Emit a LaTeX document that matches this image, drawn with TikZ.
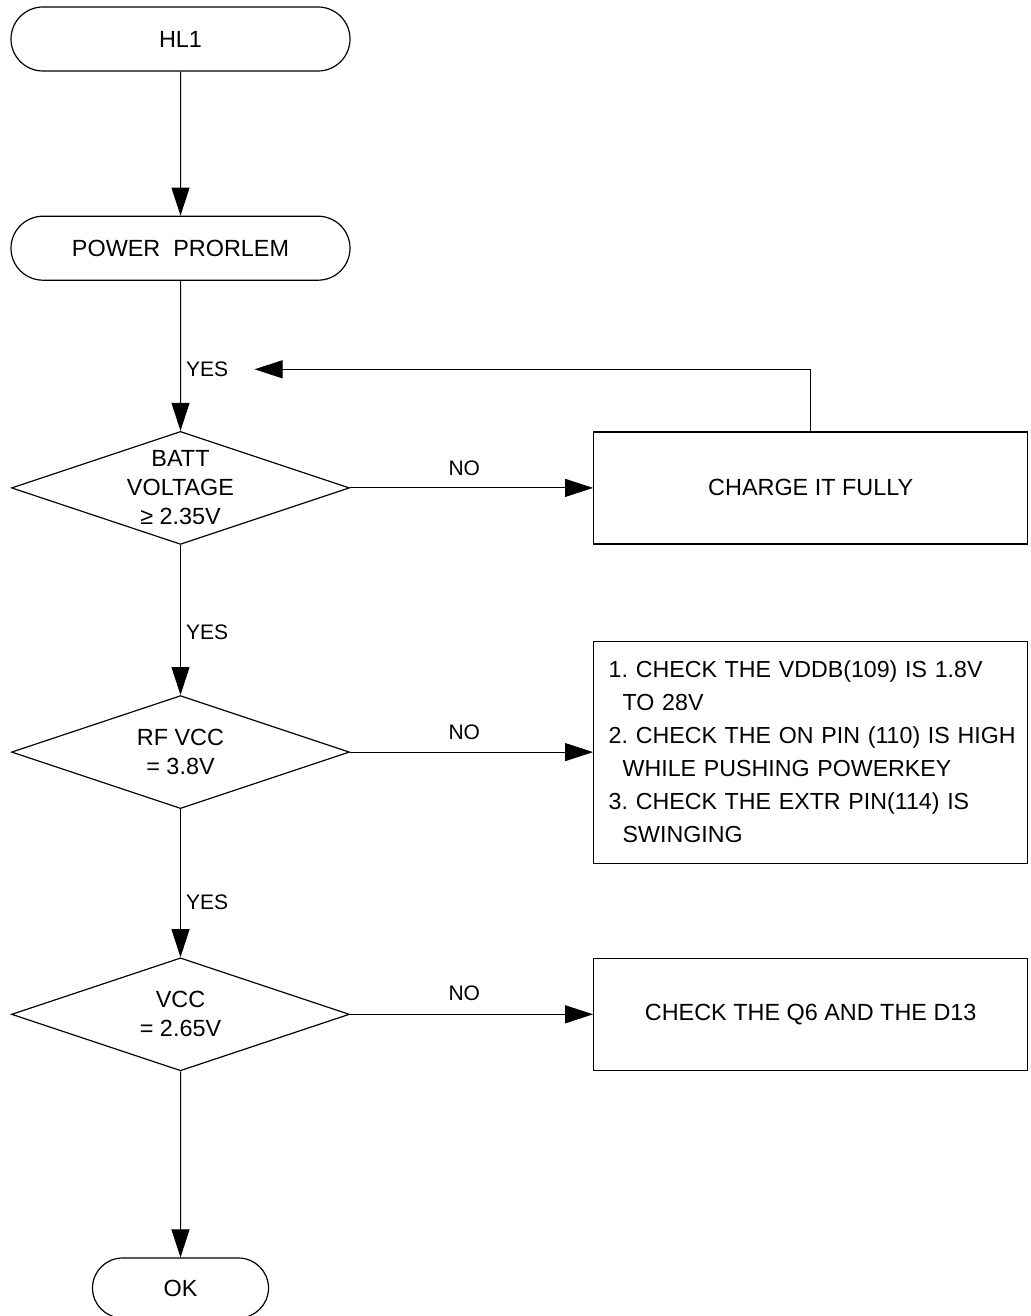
\documentclass[tikz,border=0pt]{standalone}
\usepackage{fontspec}
\setmainfont{Liberation Sans}
\usetikzlibrary{shapes.geometric, shapes.misc, positioning, arrows.meta}
\frenchspacing

\begin{document}
\begin{tikzpicture}[
  font=\fontsize{23.4}{29}\selectfont,
  line width=1.2pt,
  term/.style={
    draw, rounded rectangle, inner sep=0pt,
    minimum width=339pt, minimum height=64pt
  },
  decision/.style={
    draw, diamond, aspect=3, inner sep=0pt, align=center,
    minimum width=338pt, minimum height=113pt
  },
  action/.style={draw, rectangle, align=center, minimum width=434pt, minimum height=112pt},
  lbl/.style={font=\fontsize{21}{25}\selectfont, inner sep=0pt},
  arrow/.style={-{Triangle[length=28pt, width=18pt]}, line width=1pt}
]
\useasboundingbox (0,0) rectangle (1030pt,-1316pt);

% main column
\node[term] (hl1) at (180.5pt,-39pt) {HL1};
\node[term, below=144pt of hl1] (power) {POWER\ \ PRORLEM};
\node[decision, below=150pt of power] (batt) {BATT\\VOLTAGE\\≥ 2.35V};
\node[decision, below=150pt of batt] (rfvcc) {RF VCC\\= 3.8V};
\node[decision, below=148pt of rfvcc] (vcc) {VCC\\= 2.65V};
\node[term, minimum width=176pt, minimum height=60pt, below=186pt of vcc] (ok) {OK};

% actions on the NO side
\node[action, right=243pt of batt] (charge) {CHARGE IT FULLY};
\node[action, right=243pt of rfvcc, minimum height=222pt, text width=416pt, inner xsep=9pt,
  align=left, font=\fontsize{23.2}{33}\selectfont] (pins)
 {\hspace*{6pt}1. CHECK THE VDDB(109) IS 1.8V\\\hspace*{20pt}TO 28V\\
  \hspace*{6pt}2. CHECK THE ON PIN (110) IS HIGH\\\hspace*{20pt}WHILE PUSHING POWERKEY\\
  \hspace*{6pt}3. CHECK THE EXTR PIN(114) IS\\\hspace*{20pt}SWINGING};
\node[action, right=243pt of vcc] (q6) {CHECK THE Q6 AND THE D13};

\draw[arrow] (hl1) -- (power);
\draw[arrow] (power) -- node[lbl, pos=0.59, right=5pt] (yes1) {YES} (batt);
\draw[arrow] (batt) -- node[lbl, pos=0.58, right=5pt] (yes2) {YES} (rfvcc);
\draw[arrow] (rfvcc) -- node[lbl, pos=0.63, right=5pt] (yes3) {YES} (vcc);
\draw[arrow] (vcc) -- (ok);

\draw[arrow] (batt) -- node[lbl, pos=0.47, above=12pt] (no1) {NO} (charge);
\draw[arrow] (rfvcc) -- node[lbl, pos=0.47, above=12pt] (no2) {NO} (pins);
\draw[arrow] (vcc) -- node[lbl, pos=0.47, above=13pt] (no3) {NO} (q6);

% back to the test once charged
\coordinate[right=26pt of yes1] (back);
\draw[arrow] (charge.north) |- (back);
\end{tikzpicture}
\end{document}
